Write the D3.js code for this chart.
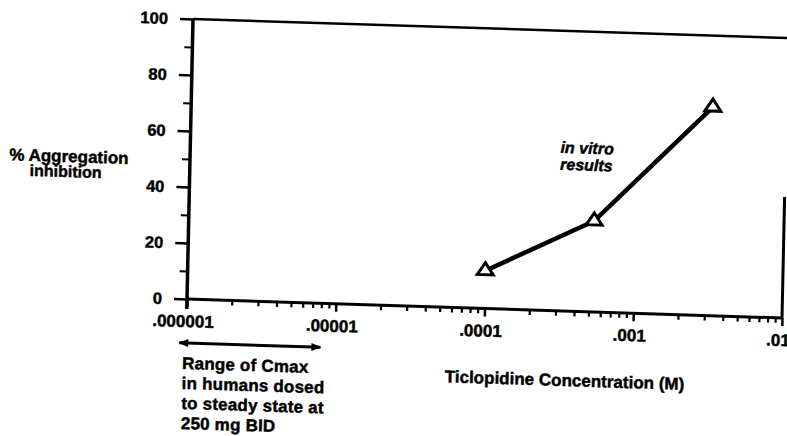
<!DOCTYPE html>
<html>
<head>
<meta charset="utf-8">
<script src="https://cdn.jsdelivr.net/npm/d3@7"></script>
<style>
  html, body { margin: 0; padding: 0; background: #fff; }
  svg { display: block; }
  text { font-family: "Liberation Sans", Arial, Helvetica, sans-serif; font-weight: bold; fill: #000; stroke: #000; stroke-width: 0.45px; }
</style>
</head>
<body>
<svg id="chart" width="787" height="436"></svg>
<script>
// ---- data ----
const xTickValues = [1e-6, 1e-5, 1e-4, 1e-3, 1e-2];
const xTickLabels = [".000001", ".00001", ".0001", ".001", ".01"];
const yTickValues = [0, 20, 40, 60, 80, 100];
const yTickLabels = ["0", "20", "40", "60", "80", "100"];
const yMinorTicks = [10, 30, 50, 70, 90];
const concentration = [1e-4, 5.3e-4, 3.2e-3];      // M
const inhibition = [13.5, 32.5, 74.5];             // % aggregation inhibition
const cmaxRange = [9e-7, 8e-6];                    // range of Cmax in humans (M)
const yTitle = ["% Aggregation", "inhibition"];
const xTitle = "Ticlopidine Concentration (M)";
const seriesLabel = ["in vitro", "results"];
const cmaxNote = ["Range of Cmax", "in humans dosed", "to steady state at", "250 mg BID"];

// ---- layout ----
const W = 595, H = 280;
const svg = d3.select("#chart");
// the scanned page is slightly skewed: reproduce with an affine transform
const g = svg.append("g").attr("transform", "matrix(1,0.0319,-0.0214,1,193,19)");

const x = d3.scaleLog().domain([1e-6, 1e-2]).range([0, W]);
const y = d3.scaleLinear().domain([0, 100]).range([H, 0]);

// minor x ticks
const xMinor = [];
for (let e = -6; e < -2; e++) for (let m = 2; m <= 9; m++) xMinor.push(m * Math.pow(10, e));

// frame: top line and partial right line
g.append("line").attr("x1", 0).attr("x2", W + 6).attr("y1", 0).attr("y2", 0)
  .attr("stroke", "#000").attr("stroke-width", 2.5);
g.append("line").attr("x1", W).attr("x2", W).attr("y1", 159).attr("y2", H)
  .attr("stroke", "#000").attr("stroke-width", 3);

// x axis
const xAxis = g.append("g").attr("transform", `translate(0,${H})`)
  .call(d3.axisBottom(x).tickValues(xTickValues).tickSize(8).tickSizeOuter(0).tickPadding(8)
    .tickFormat((d, i) => xTickLabels[i]));
xAxis.select(".domain").attr("stroke-width", 3).attr("d", `M0,0H${W}`);
xAxis.selectAll(".tick line").attr("stroke-width", 2.5);
xAxis.selectAll(".tick text").attr("font-size", 17).attr("dx", -4)
  .style("font-family", "'Liberation Sans', Arial, sans-serif").style("font-weight", "bold");
const xAxisMinor = g.append("g").attr("transform", `translate(0,${H})`)
  .call(d3.axisBottom(x).tickValues(xMinor).tickSize(5).tickSizeOuter(0).tickFormat(""));
xAxisMinor.select(".domain").remove();
xAxisMinor.selectAll(".tick line").attr("stroke-width", 2.2);

// y axis
const yAxis = g.append("g")
  .call(d3.axisLeft(y).tickValues(yTickValues).tickSize(13).tickSizeOuter(0).tickPadding(12)
    .tickFormat((d, i) => yTickLabels[i]));
yAxis.select(".domain").attr("stroke-width", 3.5).attr("d", `M0,0V${H + 10}`);
yAxis.selectAll(".tick line").attr("stroke-width", 2.5);
yAxis.selectAll(".tick text").attr("font-size", 16.5)
  .style("font-family", "'Liberation Sans', Arial, sans-serif").style("font-weight", "bold");
const yAxisMinor = g.append("g")
  .call(d3.axisLeft(y).tickValues(yMinorTicks).tickSize(8).tickSizeOuter(0).tickFormat(""));
yAxisMinor.select(".domain").remove();
yAxisMinor.selectAll(".tick line").attr("stroke-width", 2.2);

// data line
const pts = concentration.map((c, i) => [c, inhibition[i]]);
g.append("path").datum(pts)
  .attr("d", d3.line().x(d => x(d[0])).y(d => y(d[1])))
  .attr("fill", "none").attr("stroke", "#000").attr("stroke-width", 4.5).attr("stroke-linejoin", "round");

// triangle markers
g.selectAll(".mk").data(pts).join("path").attr("class", "mk")
  .attr("transform", d => `translate(${x(d[0])},${y(d[1])})`)
  .attr("d", "M0,-8L8,4L-8,4Z")
  .attr("fill", "#fff").attr("stroke", "#000").attr("stroke-width", 3).attr("stroke-linejoin", "miter");

// series annotation
g.append("text").attr("x", 370).attr("y", 122).attr("font-size", 16).attr("font-style", "italic")
  .selectAll("tspan").data(seriesLabel).join("tspan")
  .attr("x", 370).attr("dy", (d, i) => i === 0 ? 0 : 17).text(d => d);

// y title
g.append("text").attr("text-anchor", "middle")
  .selectAll("tspan").data(yTitle).join("tspan")
  .attr("font-size", (d, i) => i === 0 ? 17 : 16)
  .attr("x", (d, i) => i === 0 ? -121 : -124).attr("y", (d, i) => 147 + i * 15).text(d => d);

// x title
g.append("text").attr("x", 379).attr("y", 355).attr("text-anchor", "middle").attr("font-size", 17)
  .text(xTitle);

// Cmax range double arrow
svg.append("defs").html(
  '<marker id="ah" viewBox="0 0 10 8" refX="9" refY="4" markerWidth="13" markerHeight="8" markerUnits="userSpaceOnUse" orient="auto-start-reverse">' +
  '<path d="M0,0L10,4L0,8Z" fill="#000"/></marker>');
g.append("line")
  .attr("x1", x(cmaxRange[0])).attr("x2", x(cmaxRange[1]))
  .attr("y1", H + 44).attr("y2", H + 44)
  .attr("stroke", "#000").attr("stroke-width", 3)
  .attr("marker-start", "url(#ah)").attr("marker-end", "url(#ah)");

// Cmax note
g.append("text").attr("font-size", 17).attr("letter-spacing", 0.2)
  .selectAll("tspan").data(cmaxNote).join("tspan")
  .attr("x", -3.5).attr("y", (d, i) => 350 + i * 20).text(d => d);
</script>
</body>
</html>
